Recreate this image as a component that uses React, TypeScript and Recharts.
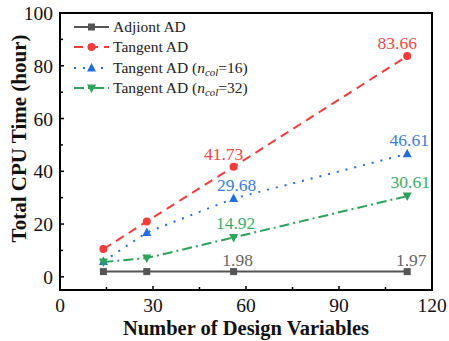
import React from 'react';
import { LineChart, Line, XAxis, YAxis, ReferenceArea, LabelList, Legend } from 'recharts';

const designVars = [14, 28, 56, 112];
const adjointAD = [1.98, 1.98, 1.98, 1.97];
const tangentAD = [10.5, 21.0, 41.73, 83.66];
const tangentAD16 = [5.8, 16.8, 29.68, 46.61];
const tangentAD32 = [5.6, 7.1, 14.92, 30.61];
const xTicks = [0, 15, 30, 45, 60, 75, 90, 105, 120];
const yTicks = [0, 10, 20, 30, 40, 50, 60, 70, 80, 90, 100];
const labelled = [2, 3];

const data = designVars.map((x, i) => ({
  x,
  adjoint: adjointAD[i],
  tangent: tangentAD[i],
  t16: tangentAD16[i],
  t32: tangentAD32[i],
}));

const serif = 'Liberation Serif, Times New Roman, serif';

type Shape = 'square' | 'circle' | 'up' | 'down';

const series = [
  { key: 'adjoint', color: '#555555', label: '#666666', dash: undefined, shape: 'square' as Shape, ldx: [4, 4], ldy: -6, name: 'Adjiont AD', ncol: '' },
  { key: 'tangent', color: '#f23c3c', label: '#f04848', dash: '9 6', shape: 'circle' as Shape, ldx: [-10, -10], ldy: -7, name: 'Tangent AD', ncol: '' },
  { key: 't16', color: '#1f6fe0', label: '#3b7de0', dash: '2 7', shape: 'up' as Shape, ldx: [3, 2], ldy: -8, name: 'Tangent AD', ncol: '16' },
  { key: 't32', color: '#2ca25a', label: '#3aae62', dash: '10 4 2 4', shape: 'down' as Shape, ldx: [2, 3], ldy: -8, name: 'Tangent AD', ncol: '32' },
];

function Marker({ cx, cy, shape, color }: { cx: number; cy: number; shape: Shape; color: string }) {
  if (shape === 'square') return <rect x={cx - 3.5} y={cy - 3.5} width={7} height={7} fill={color} />;
  if (shape === 'circle') return <circle cx={cx} cy={cy} r={4} fill={color} />;
  if (shape === 'up') return <polygon points={`${cx},${cy - 5} ${cx + 4.5},${cy + 3.5} ${cx - 4.5},${cy + 3.5}`} fill={color} />;
  return <polygon points={`${cx},${cy + 5} ${cx + 4.5},${cy - 3.5} ${cx - 4.5},${cy - 3.5}`} fill={color} />;
}

const XTick = (p: any) => {
  const major = p.payload.value % 30 === 0;
  return (
    <g>
      <line x1={p.x} x2={p.x} y1={p.y} y2={p.y - (major ? 4 : 3)} stroke="#000" strokeWidth={1.5} />
      {major && (
        <text x={p.x} y={p.y + 22} textAnchor="middle" fontSize={19.5} style={{ fontFamily: serif }} fill="#111">
          {p.payload.value}
        </text>
      )}
    </g>
  );
};

const YTick = (p: any) => {
  const major = p.payload.value % 20 === 0;
  return (
    <g>
      <line x1={p.x} x2={p.x + (major ? 4 : 3)} y1={p.y} y2={p.y} stroke="#000" strokeWidth={1.5} />
      {major && (
        <text x={p.x - 7} y={p.y + 7} textAnchor="end" fontSize={19.5} style={{ fontFamily: serif }} fill="#111">
          {p.payload.value}
        </text>
      )}
    </g>
  );
};

const YTitle = (p: any) => {
  const vb = p.viewBox;
  const cx = vb.x + 19;
  const cy = vb.y + vb.height / 2 - 13;
  return (
    <text x={cx} y={cy} transform={`rotate(-90 ${cx} ${cy})`} textAnchor="middle" dominantBaseline="central"
      fontSize={21} fontWeight="bold" style={{ fontFamily: serif }} fill="#111">
      Total CPU Time (hour)
    </text>
  );
};

const LegendBox = () => (
  <div style={{ fontFamily: serif, fontSize: 15.5, color: '#222' }}>
    {series.map((s) => (
      <div key={s.key} style={{ display: 'flex', alignItems: 'center', height: 20.3 }}>
        <svg width={37} height={20}>
          <line x1={1} x2={36} y1={10} y2={10} stroke={s.color} strokeWidth={2} strokeDasharray={s.dash} />
          <Marker cx={18.5} cy={10} shape={s.shape} color={s.color} />
        </svg>
        <span style={{ marginLeft: 3, whiteSpace: 'nowrap' }}>
          {s.ncol ? (
            <>
              {s.name} (<i>n</i>
              <sub style={{ fontSize: '0.7em', fontStyle: 'italic', verticalAlign: '-0.25em', lineHeight: 0 }}>col</sub>={s.ncol})
            </>
          ) : (
            s.name
          )}
        </span>
      </div>
    ))}
  </div>
);

export default function App() {
  return (
    <div style={{ position: 'absolute', left: 0, top: 0 }}>
      <LineChart width={449} height={341} data={data} margin={{ top: 13, right: 17, bottom: 0, left: 0 }}>
        <ReferenceArea x1={0} x2={120} y1={-5} y2={100} fill="none" fillOpacity={0} stroke="#000" strokeWidth={2} />
        <XAxis
          type="number"
          dataKey="x"
          domain={[0, 120]}
          ticks={xTicks}
          interval={0}
          tickSize={0}
          tickMargin={0}
          axisLine={false}
          tickLine={false}
          tick={<XTick />}
          height={51}
          label={{ value: 'Number of Design Variables', position: 'insideBottom', offset: 6, style: { fontSize: 20.5, fontWeight: 'bold', fontFamily: serif, fill: '#111' } }}
        />
        <YAxis
          type="number"
          domain={[-5, 100]}
          ticks={yTicks}
          interval={0}
          tickSize={0}
          tickMargin={0}
          axisLine={false}
          tickLine={false}
          tick={<YTick />}
          width={60}
          label={<YTitle />}
        />
        <Legend
          layout="vertical"
          align="center"
          verticalAlign="middle"
          content={() => <LegendBox />}
          wrapperStyle={{ left: 73, top: 17, width: 'auto' }}
        />
        {series.map((s) => (
          <Line
            key={s.key}
            dataKey={s.key}
            stroke={s.color}
            strokeWidth={2}
            strokeDasharray={s.dash}
            isAnimationActive={false}
            dot={(d: any) => <Marker key={`${s.key}-${d.index}`} cx={d.cx} cy={d.cy} shape={s.shape} color={s.color} />}
            activeDot={false}
          >
            <LabelList
              dataKey={s.key}
              content={(p: any) => {
                const k = labelled.indexOf(p.index);
                if (k < 0) return null;
                return (
                  <text x={p.x + s.ldx[k]} y={p.y + s.ldy} textAnchor="middle" fontSize={17.5} style={{ fontFamily: serif }} fill={s.label}>
                    {p.value}
                  </text>
                );
              }}
            />
          </Line>
        ))}
      </LineChart>
    </div>
  );
}
